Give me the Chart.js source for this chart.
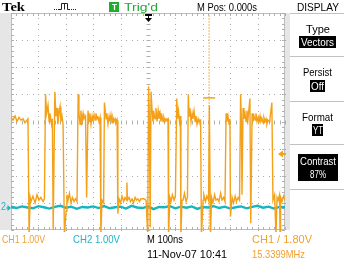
<!DOCTYPE html>
<html><head><meta charset="utf-8">
<script src="https://cdn.jsdelivr.net/npm/chart.js@4/dist/chart.umd.min.js"></script>
<style>
html,body{margin:0;padding:0;background:#fff;}
#wrap{position:relative;width:350px;height:263px;overflow:hidden;background:#fff;font-family:"Liberation Sans",Arial,sans-serif;}
#c{position:absolute;left:0;top:0;}
.t{position:absolute;white-space:nowrap;line-height:1;transform-origin:0 0;}
.box{position:absolute;background:#000;}
.sep{position:absolute;height:1px;background:#c2c2c2;}
.strip{position:absolute;background:#e6e6e6;}
</style></head><body>
<div id="wrap">
<div class="strip" style="left:0;top:13px;width:11px;height:217px"></div>
<div class="strip" style="left:285px;top:13px;width:5px;height:217px"></div>
<canvas id="c" width="350" height="263"></canvas>
</div>
<script>
// ---- data ----
const ch1Time = [-500,-493,-485,-478,-471,-464,-456,-449,-442,-438,-434,-430,-427,-420,-412,-405,-398,-391,-383,-378,
-374,-370,-365,-361,-358,-352,-349,-346,-340,-336,-332,-329,-325,-321,-318,-314,-310,-305,-299,-296,
-292,-287,-281,-276,-270,-265,-259,-255,-252,-248,-245,-241,-237,-234,-228,-224,-219,-215,-212,-208,
-204,-201,-197,-193,-190,-186,-183,-179,-175,-172,-168,-162,-159,-153,-150,-146,-142,-139,-135,-131,
-128,-124,-120,-117,-113,-110,-106,-100,-95,-89,-84,-79,-77,-75,-69,-64,-58,-53,-47,-42,
-37,-31,-26,-22,-15,-7,-4,-1,2,5,8,11,15,18,22,26,29,33,37,40,
44,47,51,55,58,62,66,69,73,75,80,84,89,95,100,105,108,111,115,118,
120,124,128,133,139,144,147,150,153,157,161,164,168,172,175,179,183,186,192,195,
201,204,210,215,221,224,228,232,237,243,248,254,259,265,270,276,281,285,288,292,
296,299,301,307,312,318,323,329,334,338,341,343,347,350,354,358,361,365,372,375,
380,383,387,391,394,398,402,405,409,412,416,420,423,427,431,434,438,442,445,452,
456,462,467,471,475,480,482,484,489,495,500];
const ch1Volt = [3.15,3.05,3.2,3.0,3.15,3.05,3.1,2.95,3.05,3.1,-1.2,0.2,0.05,0.25,0.0,0.3,0.1,0.2,0.05,0.15,
4.0,3.3,3.6,3.0,3.3,2.9,3.1,-1.0,4.1,3.2,3.5,2.9,3.3,3.55,3.0,3.2,2.9,-1.2,-0.3,0.3,
0.1,0.35,0.0,0.2,0.05,0.15,0.05,4.0,3.3,2.9,3.4,3.0,3.3,3.1,3.2,0.2,3.4,3.0,3.3,2.9,
3.2,3.0,3.25,3.05,3.3,3.1,3.2,3.0,3.15,-1.2,0.1,0.0,3.7,3.1,3.3,2.9,3.2,3.0,3.25,2.95,
3.15,3.0,3.1,2.95,3.05,-0.4,0.15,0.0,0.25,0.05,0.2,0.1,0.75,0.1,0.2,0.05,0.15,0.0,0.2,0.1,
0.15,0.05,0.15,0.15,0.15,0.1,0.1,-1.2,4.3,3.2,-0.9,4.1,3.4,3.0,3.3,3.1,3.5,3.0,3.4,3.1,
3.3,3.0,3.2,3.0,3.15,3.0,3.1,3.05,3.1,-1.2,0.2,0.05,0.3,0.1,0.25,3.85,3.1,3.4,3.0,3.2,
-1.2,0.1,0.1,0.35,0.05,0.2,4.0,3.2,3.5,3.0,3.3,3.1,3.4,3.0,3.2,2.9,3.1,3.0,3.05,-1.2,
0.1,0.3,0.05,0.25,0.1,3.6,-1.2,0.2,0.0,0.3,0.1,0.15,0.05,0.35,0.1,0.2,0.05,3.3,3.0,3.2,
2.9,3.1,-0.5,0.2,0.0,0.25,0.05,0.2,0.1,4.0,3.0,0.3,3.5,3.1,3.3,3.0,3.4,3.1,3.85,-0.75,
3.3,3.0,3.2,3.05,3.3,3.0,3.15,2.95,3.2,3.0,3.1,2.95,3.15,3.0,3.1,2.9,3.05,3.0,3.1,3.7,
0.1,0.3,-1.2,0.2,0.1,0.3,-1.2,0.2,0.05,0.25,0.1];
const ch2Time = [-500,-480,-460,-440,-420,-400,-380,-360,-340,-320,-300,-280,-260,-240,-220,-200,-180,-160,-140,-120,
-100,-80,-60,-40,-20,0,20,40,60,80,100,120,140,160,180,200,220,240,260,280,
300,320,340,360,380,400,420,440,460,480,500];
const ch2Volt = [0.03,-0.02,0.04,0.0,-0.03,0.05,0.01,-0.04,0.02,0.06,-0.01,0.03,-0.05,0.02,0.0,0.04,-0.02,0.05,-0.03,0.01,
0.03,-0.04,0.06,0.0,-0.02,0.04,-0.06,0.02,0.01,0.05,-0.03,0.03,-0.01,0.04,-0.05,0.02,0.0,0.05,-0.02,0.03,
-0.04,0.01,0.04,-0.03,0.02,0.06,-0.01,0.03,-0.04,0.02,0.01];
const cursorTime = [223, 223];
const cursorVolt = [-1, 7];
const markerTime = [201, 245];
const markerVolt = [3.87, 3.87];
const triggerTime = 0;
const triggerLevel = 1.8;
const timeTicks = {min:-500, max:500, step:100};
const voltTicks = {min:-1, max:7, step:1};
const ch2Range = {min:-0.83, max:7.17};

const wrap = document.getElementById('wrap');
function pts(xs, ys){ return xs.map((x,i)=>({x:x, y:ys[i]})); }

const ORANGE = '#f4a11a', CYAN = '#17b4c2';

const decor = {
  id:'decor',
  beforeDatasetsDraw(chart){
    const {ctx, chartArea:a, scales} = chart;
    const xs = scales.x, ys = scales.y;
    ctx.save();
    const L = Math.round(a.left), R = Math.round(a.right)-1, T = Math.round(a.top), B = Math.round(a.bottom)-1;
    // dotted grid: dots at every minor division along every major line
    ctx.fillStyle = '#a9a9a9';
    for (let t = timeTicks.min + timeTicks.step; t < timeTicks.max; t += timeTicks.step) {
      const p = Math.round(xs.getPixelForValue(t));
      for (let v = voltTicks.min; v <= voltTicks.max+1e-9; v += voltTicks.step/5) {
        ctx.fillRect(p, Math.round(ys.getPixelForValue(v)), 1, 1);
      }
    }
    for (let v = voltTicks.min + voltTicks.step; v < voltTicks.max; v += voltTicks.step) {
      const p = Math.round(ys.getPixelForValue(v));
      for (let t = timeTicks.min; t <= timeTicks.max+1e-9; t += timeTicks.step/5) {
        ctx.fillRect(Math.round(xs.getPixelForValue(t)), p, 1, 1);
      }
    }
    // frame
    ctx.strokeStyle = '#bdbdbd'; ctx.lineWidth = 1;
    ctx.strokeRect(L+0.5, T+0.5, R-L, B-T);
    // minor ticks on frame and centre lines
    const xc = Math.round(xs.getPixelForValue(triggerTime))+0.5;
    const yc = Math.round(ys.getPixelForValue((voltTicks.min+voltTicks.max)/2))+0.5;
    ctx.strokeStyle = '#b0b0b0';
    ctx.beginPath();
    for (let t = timeTicks.min; t <= timeTicks.max+1e-9; t += timeTicks.step/5) {
      const p = Math.round(xs.getPixelForValue(t))+0.5;
      ctx.moveTo(p, T); ctx.lineTo(p, T+3);
      ctx.moveTo(p, B+1); ctx.lineTo(p, B-2);
      ctx.moveTo(p, yc-2); ctx.lineTo(p, yc+2);
    }
    for (let v = voltTicks.min; v <= voltTicks.max+1e-9; v += voltTicks.step/5) {
      const p = Math.round(ys.getPixelForValue(v))+0.5;
      ctx.moveTo(L, p); ctx.lineTo(L+3, p);
      ctx.moveTo(R+1, p); ctx.lineTo(R-2, p);
      ctx.moveTo(xc-2, p); ctx.lineTo(xc+2, p);
    }
    ctx.stroke();
    ctx.restore();
  },
  afterDraw(chart){
    const {ctx, chartArea:a, scales} = chart;
    ctx.save();
    // trigger position arrow
    const xt = Math.round(scales.x.getPixelForValue(triggerTime))+0.5;
    ctx.fillStyle = '#000'; ctx.strokeStyle = '#000'; ctx.lineWidth = 1;
    ctx.fillRect(xt-3.5, a.top+1, 7, 2);
    ctx.beginPath(); ctx.moveTo(xt, a.top+2); ctx.lineTo(xt, a.top+6); ctx.stroke();
    ctx.beginPath(); ctx.moveTo(xt-3.5, a.top+5); ctx.lineTo(xt+3.5, a.top+5); ctx.lineTo(xt, a.top+9); ctx.closePath(); ctx.fill();
    // trigger level arrow
    const yl = scales.y.getPixelForValue(triggerLevel);
    ctx.fillStyle = ORANGE; ctx.strokeStyle = ORANGE;
    ctx.beginPath(); ctx.moveTo(a.right-7, yl); ctx.lineTo(a.right-2, yl-3.5); ctx.lineTo(a.right-2, yl+3.5); ctx.closePath(); ctx.fill();
    ctx.fillRect(a.right-3, yl-1, 4, 2);
    // CH2 ground arrow
    const y2 = scales.y2.getPixelForValue(0);
    ctx.fillStyle = CYAN; ctx.strokeStyle = CYAN;
    ctx.beginPath(); ctx.moveTo(6, y2+0.5); ctx.lineTo(10, y2+0.5); ctx.stroke();
    ctx.beginPath(); ctx.moveTo(11, y2+0.5); ctx.lineTo(7.5, y2-2.5); ctx.lineTo(7.5, y2+3.5); ctx.closePath(); ctx.fill();
    // acquisition icon
    ctx.fillStyle = '#222'; ctx.strokeStyle = '#222';
    [54,56,58,71,73,75].forEach(x=>ctx.fillRect(x, 9, 1, 1));
    ctx.beginPath();
    ctx.moveTo(59, 9.5); ctx.lineTo(61.5, 9.5); ctx.lineTo(61.5, 3.5); ctx.lineTo(67.5, 3.5); ctx.lineTo(67.5, 9.5); ctx.lineTo(70, 9.5);
    ctx.moveTo(64.5, 3.5); ctx.lineTo(64.5, 9.5);
    ctx.stroke();
    ctx.restore();
  }
};

new Chart(document.getElementById('c'), {
  type:'line',
  data:{datasets:[
    {label:'CH1', data:pts(ch1Time, ch1Volt), borderColor:ORANGE, borderWidth:1.4, pointRadius:0, tension:0, yAxisID:'y', clip:{left:0,top:0,right:0,bottom:2}, order:1},
    {label:'CH2', data:pts(ch2Time, ch2Volt), borderColor:CYAN, borderWidth:2.4, pointRadius:0, tension:0, yAxisID:'y2', clip:0, order:2},
    {label:'cursor', data:pts(cursorTime, cursorVolt), borderColor:'#f6b54a', borderWidth:1, borderDash:[2,1], pointRadius:0, yAxisID:'y', clip:0, order:3},
    {label:'marker', data:pts(markerTime, markerVolt), borderColor:ORANGE, borderWidth:1.5, pointRadius:0, yAxisID:'y', clip:0, order:0}
  ]},
  options:{
    responsive:false, animation:false, events:[],
    layout:{padding:{left:11, top:13, right:65, bottom:33}},
    plugins:{legend:{display:false}, tooltip:{enabled:false}},
    scales:{
      x:{type:'linear', min:timeTicks.min, max:timeTicks.max,
         ticks:{display:false, stepSize:timeTicks.step},
         grid:{display:false, drawTicks:false},
         border:{display:false}},
      y:{type:'linear', min:voltTicks.min, max:voltTicks.max,
         ticks:{display:false, stepSize:voltTicks.step},
         grid:{display:false, drawTicks:false},
         border:{display:false}},
      y2:{type:'linear', display:false, min:ch2Range.min, max:ch2Range.max}
    }
  },
  plugins:[decor]
});

// ---- text ----
function addBox(x,y,w,h){
  const b=document.createElement('div'); b.className='box';
  b.style.left=x+'px'; b.style.top=y+'px'; b.style.width=w+'px'; b.style.height=h+'px';
  wrap.appendChild(b);
}
function addSep(x,y,w){
  const b=document.createElement('div'); b.className='sep';
  b.style.left=x+'px'; b.style.top=y+'px'; b.style.width=w+'px';
  wrap.appendChild(b);
}
function addText(s){
  const el=document.createElement('div'); el.className='t';
  el.textContent=s.text;
  el.style.fontSize=s.size+'px';
  el.style.color=s.color||'#000';
  if(s.weight) el.style.fontWeight=s.weight;
  if(s.family) el.style.fontFamily=s.family;
  wrap.appendChild(el);
  const w0=el.getBoundingClientRect().width;
  const k=s.w/w0;
  const left = (s.x!==undefined) ? s.x : s.cx - s.w/2;
  el.style.left=left+'px';
  el.style.top=(s.cap-(s.off||0.13)*s.size)+'px';
  el.style.transform='scaleX('+k+')';
}
const PX = 317.5;
// panel
addSep(290,13,54); addSep(290,56,54); addSep(290,101,54); addSep(290,144,54); addSep(290,189,54);
addBox(299,36,37,12); addBox(310,80,15,12); addBox(312,124,11,12); addBox(298,154,40,27);
// T box
const tb=document.createElement('div');
tb.style.cssText='position:absolute;left:109px;top:2px;width:10px;height:10px;background:#1fae2a;';
wrap.appendChild(tb);

const G='#22a83a', O='#f0a030', C='#1cb6c6';
[
 {text:'Tek', x:2, cap:3, w:23, size:12.5, weight:'bold', family:'"Liberation Serif","DejaVu Serif",serif', off:0.17},
 {text:'T', cx:114, cap:4, w:5, size:8.5, color:'#fff', weight:'bold'},
 {text:"Trig'd", x:124, cap:3, w:34, size:11, color:G},
 {text:'M Pos: 0.000s', x:197, cap:3, w:60, size:11},
 {text:'DISPLAY', cx:PX, cap:3, w:42, size:11},
 {text:'Type', cx:PX, cap:25, w:24, size:11},
 {text:'Vectors', cx:PX, cap:38, w:33, size:11, color:'#fff'},
 {text:'Persist', cx:PX, cap:68, w:29, size:11},
 {text:'Off', cx:PX, cap:82, w:13, size:11, color:'#fff'},
 {text:'Format', cx:PX, cap:113, w:31, size:11},
 {text:'YT', cx:PX, cap:126, w:10, size:11, color:'#fff'},
 {text:'Contrast', cx:PX, cap:157, w:36, size:11, color:'#fff'},
 {text:'87%', cx:PX, cap:170, w:16, size:11, color:'#fff'},
 {text:'2', x:1, cap:203, w:5, size:10, color:C},
 {text:'CH1  1.00V', x:2, cap:235, w:43, size:11, color:O},
 {text:'CH2  1.00V', x:73, cap:235, w:47, size:11, color:C},
 {text:'M 100ns', x:147, cap:235, w:36, size:11},
 {text:'CH1 / 1.80V', x:252, cap:235, w:60, size:11, color:O},
 {text:'11-Nov-07 10:41', x:147, cap:250, w:80, size:11},
 {text:'15.3399MHz', x:252, cap:250, w:53, size:11, color:O}
].forEach(addText);
</script>
</body></html>
